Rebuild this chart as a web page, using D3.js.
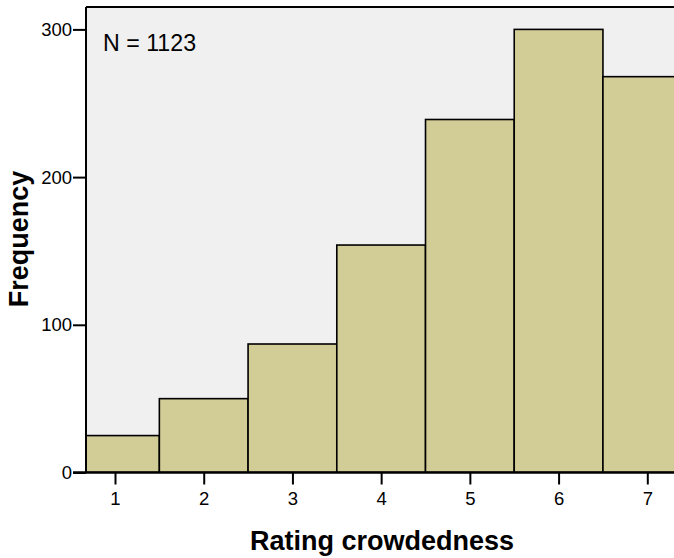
<!DOCTYPE html>
<html><head><meta charset="utf-8">
<script src="https://cdn.jsdelivr.net/npm/d3@7"></script>
<style>body{margin:0;background:#fff;} svg{display:block;font-family:Arial,"Liberation Sans",sans-serif;}</style>
</head><body>
<svg id="c" width="674" height="558"></svg>
<script>
const categories = [1, 2, 3, 4, 5, 6, 7];
const frequencies = [25, 50, 87, 154, 239, 300, 268];
const yTicks = [0, 100, 200, 300];
const xLabel = "Rating crowdedness";
const yLabel = "Frequency";
const annotation = "N = 1123";

const FONT = "Arial, 'Liberation Sans', sans-serif";
const svg = d3.select("#c");
const plotLeft = 86, plotTop = 7, plotBottom = 472.5, plotRight = 720;
const x = d3.scaleLinear().domain([1, 7]).range([115, 647.3]);
const y = d3.scaleLinear().domain([0, 300]).range([472.5, 29.4]);

svg.append("defs").append("clipPath").attr("id", "pc")
  .append("rect").attr("x", plotLeft).attr("y", plotTop)
  .attr("width", plotRight - plotLeft).attr("height", plotBottom - plotTop);

svg.append("rect").attr("x", plotLeft).attr("y", plotTop)
  .attr("width", plotRight - plotLeft).attr("height", plotBottom - plotTop)
  .attr("fill", "#f0f0f0");

svg.append("g").attr("clip-path", "url(#pc)")
  .selectAll("rect").data(categories).join("rect")
  .attr("x", d => x(d - 0.5))
  .attr("width", d => x(d + 0.5) - x(d - 0.5))
  .attr("y", (d, i) => y(frequencies[i]))
  .attr("height", (d, i) => y(0) - y(frequencies[i]))
  .attr("fill", "#d2cc96")
  .attr("stroke", "#000")
  .attr("stroke-width", 1.6);

svg.append("line").attr("x1", plotLeft).attr("x2", plotRight).attr("y1", plotTop).attr("y2", plotTop)
  .attr("stroke", "#000").attr("stroke-width", 2);

// y axis
const yAxis = d3.axisLeft(y).tickValues(yTicks).tickFormat(d3.format("d"))
  .tickSize(13).tickPadding(1).tickSizeOuter(0);
const gy = svg.append("g").attr("transform", `translate(${plotLeft},0)`).call(yAxis)
  .attr("font-size", 18.5).attr("font-family", FONT);
gy.select(".domain").attr("stroke-width", 2).attr("d", `M0,${plotTop}V${plotBottom}`);
gy.selectAll(".tick line").attr("stroke-width", 2);
gy.selectAll(".tick text").attr("fill", "#000");

// x axis
const xAxis = d3.axisBottom(x).tickValues(categories).tickFormat(d3.format("d"))
  .tickSize(12).tickPadding(7.5).tickSizeOuter(0);
const gx = svg.append("g").attr("transform", `translate(0,${plotBottom})`).call(xAxis)
  .attr("font-size", 18.5).attr("font-family", FONT);
gx.select(".domain").attr("stroke-width", 2.5).attr("d", `M${plotLeft - 13},0H${plotRight}`);
gx.selectAll(".tick line").attr("stroke-width", 2);
gx.selectAll(".tick text").attr("fill", "#000");

svg.append("text").attr("x", 103).attr("y", 51).attr("font-size", 23.2).attr("font-family", FONT).text(annotation);

svg.append("text").attr("x", 382).attr("y", 550).attr("text-anchor", "middle")
  .attr("font-size", 27).attr("font-weight", "bold").attr("font-family", FONT).text(xLabel);

svg.append("text").attr("transform", "translate(28,239) rotate(-90)").attr("text-anchor", "middle")
  .attr("font-size", 27).attr("font-weight", "bold").attr("font-family", FONT).text(yLabel);
</script>
</body></html>
